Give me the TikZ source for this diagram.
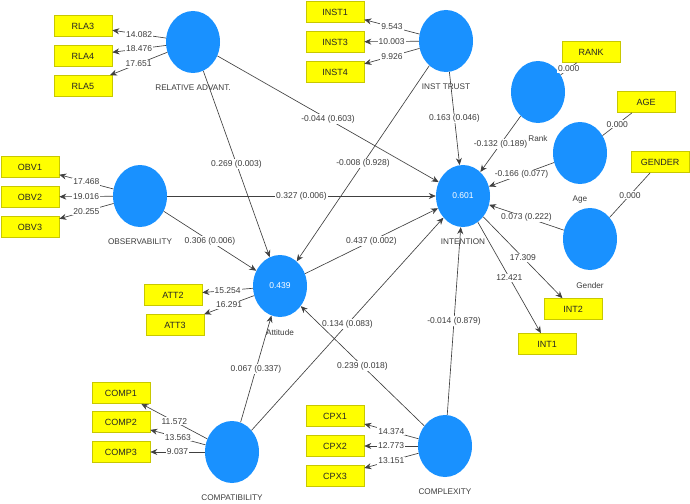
\documentclass[tikz,border=0pt]{standalone}
\usepackage{fontspec}
\setmainfont{Liberation Sans}
\usetikzlibrary{arrows.meta,shapes.geometric}
\definecolor{lvblue}{RGB}{25,145,255}
\definecolor{indyel}{RGB}{255,255,0}
\definecolor{indedge}{RGB}{200,200,0}
\definecolor{txtgray}{RGB}{60,60,60}
\begin{document}
\begin{tikzpicture}[x=1pt,y=-1pt, font=\fontsize{8.5}{10}\selectfont,
  lv/.style={ellipse, fill=lvblue, minimum width=54pt, minimum height=62pt, inner sep=0pt, text=white},
  ind/.style={rectangle, fill=indyel, draw=indedge, line width=0.6pt, minimum width=58pt, minimum height=21pt, inner sep=0pt, text=black!85, font=\fontsize{9}{10}\selectfont},
  lvcap/.style={text=txtgray, font=\fontsize{8.2}{9}\selectfont},
  lnk/.style={draw=black!75, line width=0.65pt},
  arr/.style={lnk, -{Stealth[length=7pt,width=6pt]}},
  val/.style={fill=white, inner sep=1pt, text=txtgray, pos=0.5},
  label distance=8.5pt]
\useasboundingbox (0,0) rectangle (690,503);

% latent variables
\node[lv, label={[lvcap]below:RELATIVE ADVANT.}] (RA) at (193,42) {};
\node[lv, label={[lvcap]below:INST TRUST}] (IT) at (446,41) {};
\node[lv, label={[lvcap]below:Rank}] (RK) at (538,92) {};
\node[lv, label={[lvcap]below:Age}] (AG) at (580,153) {};
\node[lv, label={[lvcap]below:Gender}] (GD) at (590,239) {};
\node[lv, label={[lvcap]below:INTENTION}] (IN) at (463,196) {0.601};
\node[lv, label={[lvcap]below:OBSERVABILITY}] (OB) at (140,196) {};
\node[lv, label={[lvcap]below:Attitude}] (AT) at (280,286) {0.439};
\node[lv, label={[lvcap]below:COMPATIBILITY}] (CP) at (232,452) {};
\node[lv, label={[lvcap]below:COMPLEXITY}] (CX) at (445,446) {};

% indicators
\node[ind] (RLA3) at (83,26) {RLA3};
\node[ind] (RLA4) at (83,56) {RLA4};
\node[ind] (RLA5) at (83,86) {RLA5};
\node[ind] (INST1) at (335,12) {INST1};
\node[ind] (INST3) at (335,42) {INST3};
\node[ind] (INST4) at (335,72) {INST4};
\node[ind] (RANK) at (591,52) {RANK};
\node[ind] (AGE) at (646,102) {AGE};
\node[ind] (GENDER) at (660,162) {GENDER};
\node[ind] (OBV1) at (30,167) {OBV1};
\node[ind] (OBV2) at (30,197) {OBV2};
\node[ind] (OBV3) at (30,227) {OBV3};
\node[ind] (ATT2) at (173,295) {ATT2};
\node[ind] (ATT3) at (175,325) {ATT3};
\node[ind] (INT2) at (573,309) {INT2};
\node[ind] (INT1) at (547,344) {INT1};
\node[ind] (COMP1) at (121,393) {COMP1};
\node[ind] (COMP2) at (121,422) {COMP2};
\node[ind] (COMP3) at (121,452) {COMP3};
\node[ind] (CPX1) at (335,416) {CPX1};
\node[ind] (CPX2) at (335,446) {CPX2};
\node[ind] (CPX3) at (335,476) {CPX3};

% structural paths
\draw[arr] (RA) -- node[val]{0.269 (0.003)} (AT);
\draw[arr] (RA) -- node[val]{-0.044 (0.603)} (IN);
\draw[arr] (IT) -- node[val]{-0.008 (0.928)} (AT);
\draw[arr] (IT) -- node[val]{0.163 (0.046)} (IN);
\draw[arr] (RK) -- node[val]{-0.132 (0.189)} (IN);
\draw[arr] (AG) -- node[val]{-0.166 (0.077)} (IN);
\draw[arr] (GD) -- node[val]{0.073 (0.222)} (IN);
\draw[arr] (OB) -- node[val]{0.327 (0.006)} (IN);
\draw[arr] (OB) -- node[val]{0.306 (0.006)} (AT);
\draw[arr] (AT) -- node[val]{0.437 (0.002)} (IN);
\draw[arr] (CP) -- node[val]{0.067 (0.337)} (AT);
\draw[arr] (CP) -- node[val]{0.134 (0.083)} (IN);
\draw[arr] (CX) -- node[val]{0.239 (0.018)} (AT);
\draw[arr] (CX) -- node[val]{-0.014 (0.879)} (IN);

% measurement paths
\draw[arr] (RA) -- node[val]{14.082} (RLA3);
\draw[arr] (RA) -- node[val]{18.476} (RLA4);
\draw[arr] (RA) -- node[val]{17.651} (RLA5);
\draw[arr] (IT) -- node[val]{9.543} (INST1);
\draw[arr] (IT) -- node[val]{10.003} (INST3);
\draw[arr] (IT) -- node[val]{9.926} (INST4);
\draw[lnk] (RK) -- node[val]{0.000} (RANK);
\draw[lnk] (AG) -- node[val]{0.000} (AGE);
\draw[lnk] (GD) -- node[val]{0.000} (GENDER);
\draw[arr] (OB) -- node[val]{17.468} (OBV1);
\draw[arr] (OB) -- node[val]{19.016} (OBV2);
\draw[arr] (OB) -- node[val]{20.255} (OBV3);
\draw[arr] (AT) -- node[val]{15.254} (ATT2);
\draw[arr] (AT) -- node[val]{16.291} (ATT3);
\draw[arr] (IN) -- node[val]{17.309} (INT2);
\draw[arr] (IN) -- node[val]{12.421} (INT1);
\draw[arr] (CP) -- node[val]{11.572} (COMP1);
\draw[arr] (CP) -- node[val]{13.563} (COMP2);
\draw[arr] (CP) -- node[val]{9.037} (COMP3);
\draw[arr] (CX) -- node[val]{14.374} (CPX1);
\draw[arr] (CX) -- node[val]{12.773} (CPX2);
\draw[arr] (CX) -- node[val]{13.151} (CPX3);
\end{tikzpicture}
\end{document}
